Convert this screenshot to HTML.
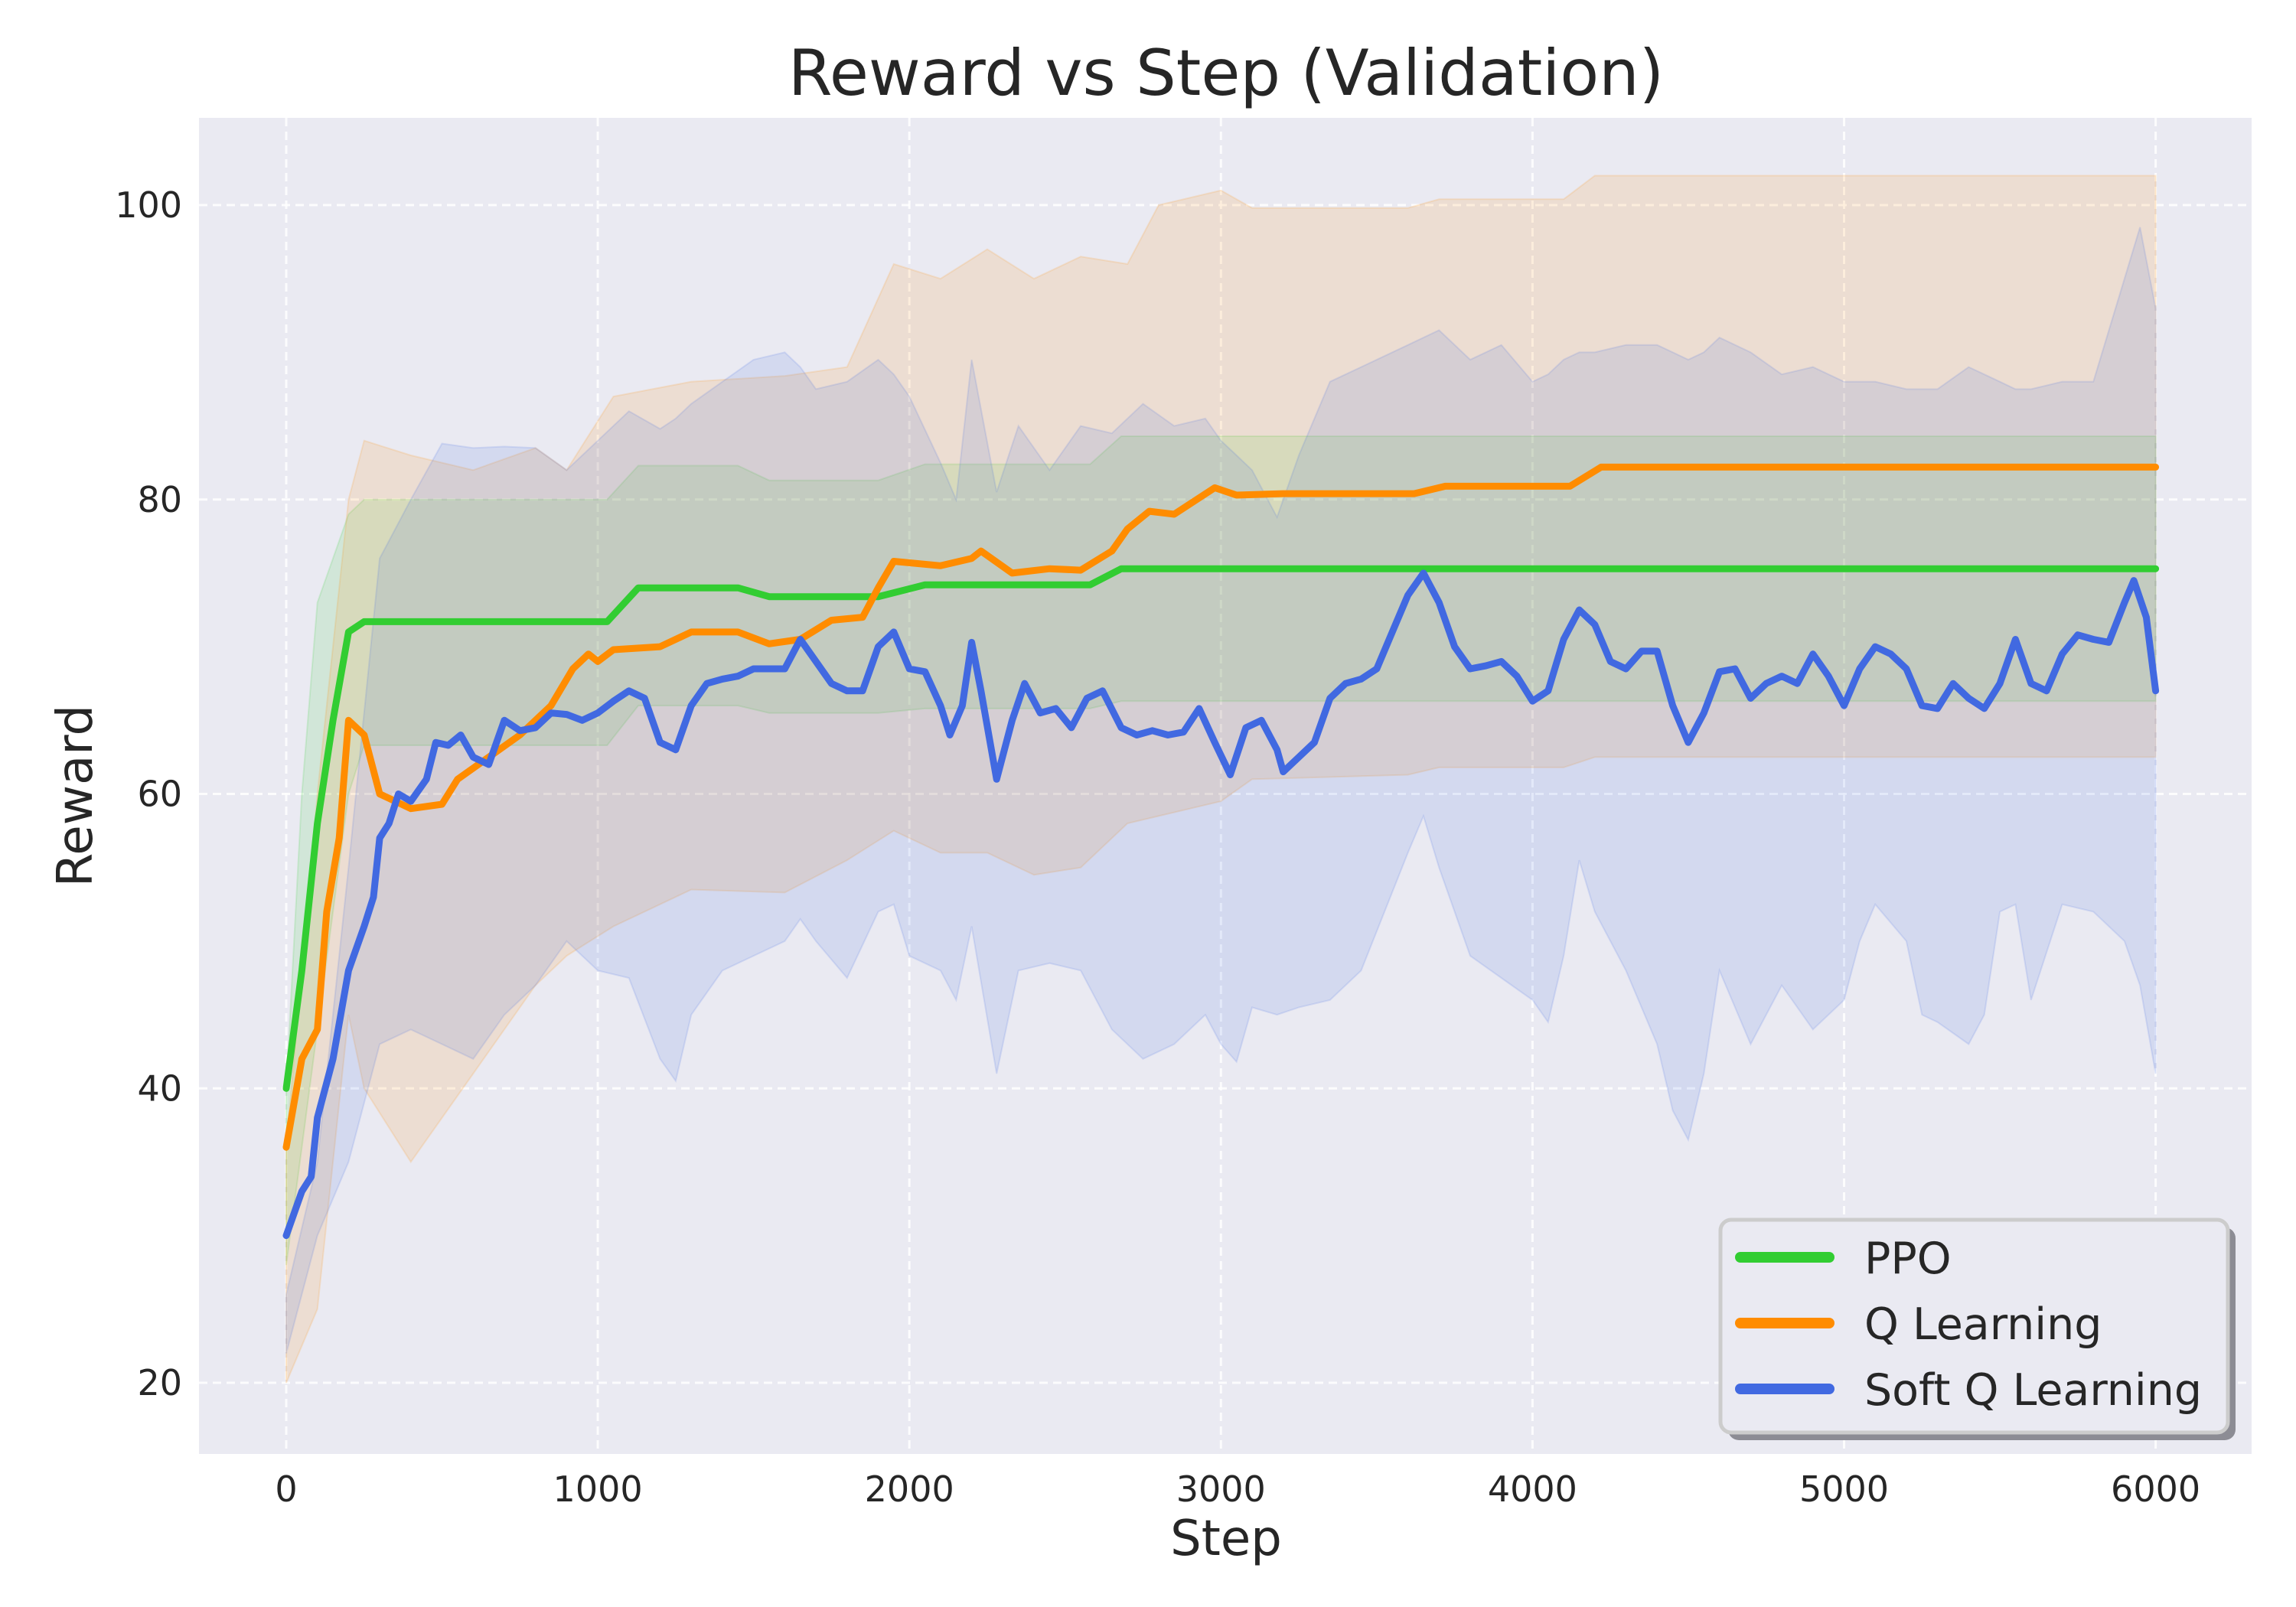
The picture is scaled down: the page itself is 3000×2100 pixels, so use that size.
<!DOCTYPE html>
<html><head><meta charset="utf-8"><style>
html,body{margin:0;padding:0;background:#fff}
svg{display:block;font-family:"DejaVu Sans","Liberation Sans",sans-serif}
</style></head><body>
<svg id="chart" width="3000" height="2100" viewBox="0 0 3000 2100" xmlns="http://www.w3.org/2000/svg">
<rect x="0" y="0" width="3000" height="2100" fill="#ffffff"/>
<rect x="260" y="154" width="2682" height="1746" fill="#eaeaf2"/>
<g id="grid"></g>
<g id="bands"></g>
<g id="lines"></g>
<g id="ticks"></g>
<text x="1602" y="124" font-size="83" text-anchor="middle" fill="#262626">Reward vs Step (Validation)</text>
<text x="1602" y="2032" font-size="64" text-anchor="middle" fill="#262626">Step</text>
<text x="0" y="0" font-size="64" text-anchor="middle" fill="#262626" transform="translate(120,1040) rotate(-90)">Reward</text>
<g>
<rect x="2258" y="1604" width="663" height="278" rx="14" fill="#8c8c94"/>
<rect x="2248" y="1594" width="663" height="278" rx="14" fill="#eaeaf2" stroke="#cccccc" stroke-width="5"/>
<line x1="2274" y1="1643" x2="2390" y2="1643" stroke="#32cd32" stroke-width="14" stroke-linecap="round"/>
<text x="2436" y="1664" font-size="57" fill="#262626">PPO</text>
<line x1="2274" y1="1729" x2="2390" y2="1729" stroke="#ff8c00" stroke-width="14" stroke-linecap="round"/>
<text x="2436" y="1750" font-size="57" fill="#262626">Q Learning</text>
<line x1="2274" y1="1815" x2="2390" y2="1815" stroke="#4169e1" stroke-width="14" stroke-linecap="round"/>
<text x="2436" y="1836" font-size="57" fill="#262626">Soft Q Learning</text>
</g>
</svg>
<script>
const xTicks=[0,1000,2000,3000,4000,5000,6000];
const yTicks=[20,40,60,80,100];

const ppoSteps=[0,50,100,150,200,250,1030,1130,1450,1550,1900,2050,2580,2680,6000];
const ppoMean=[40,48,58,65,71,71.7,71.7,74,74,73.4,73.4,74.2,74.2,75.3,75.3];
const ppoUpper=[40,60,73,76,79,80,80,82.3,82.3,81.3,81.3,82.4,82.4,84.3,84.3];
const ppoLower=[28,36,44,52,60,63.3,63.3,66,66,65.5,65.5,65.8,65.8,66.3,66.3];

const qSteps=[0,50,100,130,170,200,250,300,350,400,500,550,650,750,850,920,970,1000,1050,1200,1300,1450,1550,1650,1750,1850,1900,1950,2100,2200,2230,2330,2450,2550,2650,2700,2770,2850,2980,3050,3200,3620,3720,4120,4220,6000];
const qMean=[36,42,44,52,57,65,64,60,59.5,59,59.3,61,62.5,64,66,68.5,69.5,69,69.8,70,71,71,70.2,70.5,71.8,72,74,75.8,75.5,76,76.5,75,75.3,75.2,76.5,78,79.2,79,80.8,80.3,80.4,80.4,80.9,80.9,82.2,82.2];
const qBandSteps=[0,100,200,250,400,600,800,900,1050,1300,1600,1800,1950,2100,2250,2400,2550,2700,2800,3000,3100,3600,3700,4100,4200,6000];
const qUpper=[36,60,80,84,83,82,83.5,82,87,88,88.4,89,96,95,97,95,96.5,96,100,101,99.8,99.8,100.4,100.4,102,102];
const qLower=[20,25,45,40,35,41,47,49,51,53.5,53.3,55.5,57.5,56,56,54.5,55,58,58.5,59.5,61,61.3,61.8,61.8,62.5,62.5];

const sSteps=[0,50,80,100,150,200,250,280,300,330,360,400,450,480,520,560,600,650,700,750,800,850,900,950,1000,1050,1100,1150,1200,1250,1300,1350,1400,1450,1500,1550,1600,1650,1700,1750,1800,1850,1900,1950,2000,2050,2100,2130,2170,2200,2230,2280,2330,2370,2420,2470,2520,2570,2620,2680,2730,2780,2830,2880,2930,2980,3030,3080,3130,3180,3200,3250,3300,3350,3400,3450,3500,3550,3600,3650,3700,3750,3800,3850,3900,3950,4000,4050,4100,4150,4200,4250,4300,4350,4400,4450,4500,4550,4600,4650,4700,4750,4800,4850,4900,4950,5000,5050,5100,5150,5200,5250,5300,5350,5400,5450,5500,5550,5600,5650,5700,5750,5800,5850,5900,5930,5970,6000];
const sMean=[30,33,34,38,42,48,51,53,57,58,60,59.5,61,63.5,63.3,64,62.5,62,65,64.3,64.5,65.5,65.4,65,65.5,66.3,67,66.5,63.5,63,66,67.5,67.8,68,68.5,68.5,68.5,70.5,69,67.5,67,67,70,71,68.5,68.3,66,64,66,70.3,67,61,65,67.5,65.5,65.8,64.5,66.5,67,64.5,64,64.3,64,64.2,65.8,63.5,61.3,64.5,65,63,61.5,62.5,63.5,66.5,67.5,67.8,68.5,71,73.5,75,73,70,68.5,68.7,69,68,66.3,67,70.5,72.5,71.5,69,68.5,69.7,69.7,66,63.5,65.5,68.3,68.5,66.5,67.5,68,67.5,69.5,68,66,68.5,70,69.5,68.5,66,65.8,67.5,66.5,65.8,67.5,70.5,67.5,67,69.5,70.8,70.5,70.3,73,74.5,72,67];
const sBandSteps=[0,100,200,300,400,500,600,700,800,900,1000,1100,1200,1250,1300,1400,1500,1600,1650,1700,1800,1900,1950,2000,2100,2150,2200,2280,2350,2450,2550,2650,2750,2850,2950,3000,3050,3100,3180,3250,3350,3450,3600,3650,3700,3800,3900,4000,4050,4100,4150,4200,4300,4400,4450,4500,4550,4600,4700,4800,4900,5000,5050,5100,5200,5250,5300,5400,5450,5500,5550,5600,5700,5800,5900,5950,6000];
const sUpper=[26,35,55,76,80,83.8,83.5,83.6,83.5,82,84,86,84.8,85.5,86.5,88,89.5,90,89,87.5,88,89.5,88.5,87,82.5,80,89.5,80.5,85,82,85,84.5,86.5,85,85.5,84,83,82,78.8,83,88,89,90.5,91,91.5,89.5,90.5,88,88.5,89.5,90,90,90.5,90.5,90,89.5,90,91,90,88.5,89,88,88,88,87.5,87.5,87.5,89,88.5,88,87.5,87.5,88,88,95,98.5,93];
const sLower=[22,30,35,43,44,43,42,45,47,50,48,47.5,42,40.5,45,48,49,50,51.5,50,47.5,52,52.5,49,48,46,51,41,48,48.5,48,44,42,43,45,43,41.8,45.5,45,45.5,46,48,56,58.5,55,49,47.5,46,44.5,49,55.5,52,48,43,38.5,36.5,41,48,43,47,44,46,50,52.5,50,45,44.5,43,45,52,52.5,46,52.5,52,50,47,41];

const X0=374, XPER=0.4071, Y20=1807, YPER=(1807-268)/80;
function xs(v){return X0+v*XPER;}
function ys(v){return Y20-(v-20)*YPER;}
const NS="http://www.w3.org/2000/svg";
function mk(tag,attrs,parent){const e=document.createElementNS(NS,tag);for(const k in attrs)e.setAttribute(k,attrs[k]);parent.appendChild(e);return e;}

const grid=document.getElementById('grid'), ticks=document.getElementById('ticks');
xTicks.forEach(t=>{
  const l=mk('line',{x1:xs(t),x2:xs(t),y1:154,y2:1900,stroke:'#ffffff','stroke-width':3,'stroke-dasharray':'11 7',opacity:0.9},grid);
  
  
  const tx=mk('text',{x:xs(t),y:1962,'font-size':46,'text-anchor':'middle',fill:'#262626'},ticks);
  tx.textContent=t;
  
  
});
yTicks.forEach(t=>{
  const l=mk('line',{x1:260,x2:2942,y1:ys(t),y2:ys(t),stroke:'#ffffff','stroke-width':3,'stroke-dasharray':'11 7',opacity:0.9},grid);
  
  
  const tx=mk('text',{x:238,y:ys(t)+16,'font-size':46,'text-anchor':'end',fill:'#262626'},ticks);
  tx.textContent=t;
  
  
});

function pts(steps,vals){return steps.map((s,i)=>xs(s).toFixed(1)+','+ys(vals[i]).toFixed(1));}
function band(steps,up,lo,color,name){
  const p=pts(steps,up).concat(pts(steps,lo).reverse());
  const e=mk('polygon',{points:p.join(' '),fill:color,'fill-opacity':0.13,stroke:color,'stroke-opacity':0.15,'stroke-width':2},document.getElementById('bands'));
  
  
}
function line(steps,vals,color,name){
  const e=mk('polyline',{points:pts(steps,vals).join(' '),fill:'none',stroke:color,'stroke-width':9,'stroke-linejoin':'round','stroke-linecap':'round'},document.getElementById('lines'));
  
  
}
band(ppoSteps,ppoUpper,ppoLower,'#32cd32','ppo-band');
band(qBandSteps,qUpper,qLower,'#ff8c00','q-learning-band');
band(sBandSteps,sUpper,sLower,'#4169e1','soft-q-learning-band');
line(ppoSteps,ppoMean,'#32cd32','ppo-line');
line(qSteps,qMean,'#ff8c00','q-learning-line');
line(sSteps,sMean,'#4169e1','soft-q-learning-line');
</script>
</body></html>
